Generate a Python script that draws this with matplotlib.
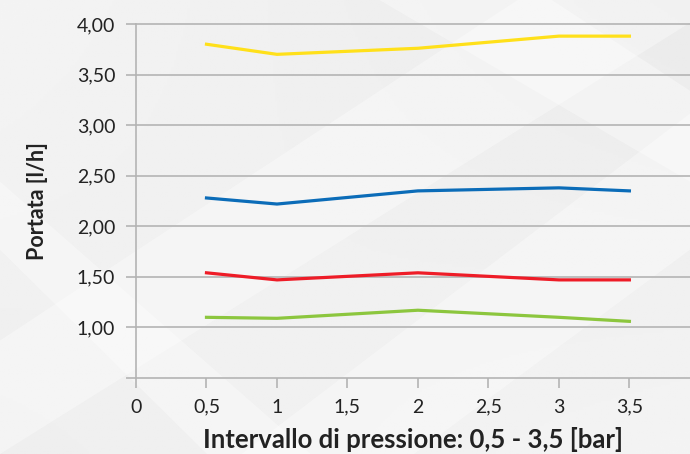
import numpy as np
import matplotlib.pyplot as plt
from matplotlib.patches import Polygon

plt.rcParams['font.family'] = ['Lato', 'DejaVu Sans']

# pressure points [bar]
pressione = [0.5, 1, 2, 3, 3.5]

# flow rates [l/h] per series
giallo = [3.80, 3.70, 3.76, 3.88, 3.88]
blu = [2.28, 2.22, 2.35, 2.38, 2.35]
rosso = [1.54, 1.47, 1.54, 1.47, 1.47]
verde = [1.10, 1.09, 1.17, 1.10, 1.06]

x_ticks = [0, 0.5, 1, 1.5, 2, 2.5, 3, 3.5]
x_labels = ["0", "0,5", "1", "1,5", "2", "2,5", "3", "3,5"]
y_ticks = [0.5, 1.0, 1.5, 2.0, 2.5, 3.0, 3.5, 4.0]
y_labels = ["", "1,00", "1,50", "2,00", "2,50", "3,00", "3,50", "4,00"]

W, H = 690, 454
fig = plt.figure(figsize=(W / 100, H / 100), dpi=100)

# background: soft gray gradient with light diagonal streaks
bg = fig.add_axes([0, 0, 1, 1], zorder=-10)
yy, xx = np.mgrid[0:1:200j, 0:1:300j]
grad = 0.955 - 0.035 * (1 - yy) * xx - 0.02 * yy * (1 - xx)
bg.imshow(grad, cmap='gray', vmin=0, vmax=1, extent=[0, 1, 0, 1],
          aspect='auto', origin='upper')
streaks = [
    [(0, 0.0), (0, 0.25), (0.75, 1), (1, 1), (1, 0.95)],
    [(0, 0.45), (0, 0.6), (0.45, 0.0), (0.3, 0.0)],
    [(0.35, 0), (0.6, 0), (1, 0.45), (1, 0.75)],
    [(0.55, 1), (0.8, 1), (1, 0.8), (1, 0.6)],
]
for pts in streaks:
    bg.add_patch(Polygon(pts, closed=True, color='white', alpha=0.35, lw=0))
bg.set_xlim(0, 1)
bg.set_ylim(0, 1)
bg.axis('off')

ax = fig.add_axes([136 / W, (H - 378) / H, 1 - 136 / W, (378 - 24) / H])
ax.patch.set_alpha(0)

ax.plot(pressione, giallo, color='#ffe01a', lw=2.3, solid_joinstyle='round')
ax.plot(pressione, blu, color='#0b6cb8', lw=2.3, solid_joinstyle='round')
ax.plot(pressione, rosso, color='#ee1c27', lw=2.3, solid_joinstyle='round')
ax.plot(pressione, verde, color='#8cc63e', lw=2.3, solid_joinstyle='round')

ax.set_xlim(0, 3.93)
ax.set_ylim(0.5, 4.0)
ax.set_xticks(x_ticks, x_labels)
ax.set_yticks(y_ticks, y_labels)

for y in y_ticks:
    ax.axhline(y, color='#b4b4b4', lw=1.2, zorder=0, clip_on=False)

for s in ['top', 'right', 'bottom']:
    ax.spines[s].set_visible(False)
ax.spines['left'].set_color('#b4b4b4')
ax.spines['left'].set_linewidth(1.2)

ax.tick_params(axis='both', colors='#b4b4b4', width=1.2, length=7,
               labelcolor='#222222', labelsize=14)
ax.tick_params(axis='y', pad=8)
ax.tick_params(axis='x', pad=8)

fig.text(37 / W, 1 - 201 / H, 'Portata [l/h]', rotation=90, ha='center',
         va='center', fontsize=15.5, fontweight='bold', color='#222222')
fig.text(413 / W, 1 - 440 / H, 'Intervallo di pressione: 0,5 - 3,5 [bar]',
         ha='center', va='center', fontsize=18.5, fontweight='bold',
         color='#222222')

fig.savefig('out.png', dpi=100)
